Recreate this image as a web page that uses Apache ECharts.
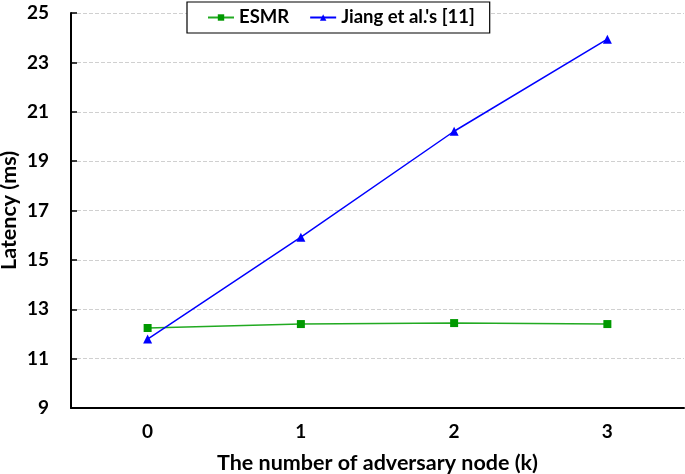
<!DOCTYPE html>
<html><head><meta charset="utf-8">
<script src="https://cdn.jsdelivr.net/npm/echarts@6/dist/echarts.min.js"></script>
<style>html,body{margin:0;padding:0;background:#fff}#c{width:685px;height:474px}</style>
</head><body><div id="c"></div>
<script>
const categories = ['0','1','2','3'];
const esmr = [12.24, 12.40, 12.44, 12.40];
const jiang = [11.79, 15.92, 20.21, 23.94];
const yTicks = {min: 9, max: 25, interval: 2};
const F = 'Lato, "Open Sans", sans-serif';
const chart = echarts.init(document.getElementById('c'));
chart.setOption({
  animation: false,
  textStyle: {fontFamily: F},
  grid: {left: 71, right: 1, top: 13, bottom: 66, containLabel: false, outerBoundsMode: 'none'},
  legend: {
    top: 2, left: 187,
    data: ['ESMR', "Jiang et al.'s [11]"],
    backgroundColor: '#fff', borderColor: '#000', borderWidth: 1.2,
    padding: [6, 15, 6, 20], itemGap: 20, itemWidth: 26, itemHeight: 8,
    textStyle: {fontFamily: F, fontWeight: 'bold', fontSize: 18.5, color: '#000'}
  },
  xAxis: {
    type: 'category', data: categories, boundaryGap: true,
    name: 'The number of adversary node (k)', nameLocation: 'middle', nameGap: 44,
    nameMoveOverlap: false,
    nameTextStyle: {fontFamily: F, fontWeight: 'bold', fontSize: 21.5, color: '#000'},
    axisLine: {lineStyle: {color: '#000', width: 2}},
    axisTick: {alignWithLabel: true, inside: true, length: 6, lineStyle: {color: '#000', width: 1.5}},
    axisLabel: {fontFamily: F, fontWeight: 'bold', fontSize: 19, color: '#000', margin: 14},
    splitLine: {show: false}
  },
  yAxis: {
    type: 'value', min: yTicks.min, max: yTicks.max, interval: yTicks.interval,
    name: 'Latency (ms)', nameLocation: 'middle', nameGap: 51, nameRotate: 90,
    nameMoveOverlap: false,
    nameTextStyle: {fontFamily: F, fontWeight: 'bold', fontSize: 21.5, color: '#000'},
    axisLine: {show: true, lineStyle: {color: '#000', width: 2}},
    axisTick: {show: true, inside: true, length: 6, lineStyle: {color: '#000', width: 1.5}},
    axisLabel: {fontFamily: F, fontWeight: 'bold', fontSize: 19, color: '#000', margin: 22},
    splitLine: {show: true, lineStyle: {color: '#d0d0d0', type: 'dashed', width: 1}}
  },
  series: [
    {name: 'ESMR', type: 'line', data: esmr, symbol: 'rect', symbolSize: 8,
     itemStyle: {color: '#009900'}, lineStyle: {color: '#22aa22', width: 1.5}},
    {name: "Jiang et al.'s [11]", type: 'line', data: jiang, symbol: 'triangle', symbolSize: 9,
     itemStyle: {color: '#0000ff'}, lineStyle: {color: '#0000ff', width: 1.5}}
  ]
});
</script></body></html>
